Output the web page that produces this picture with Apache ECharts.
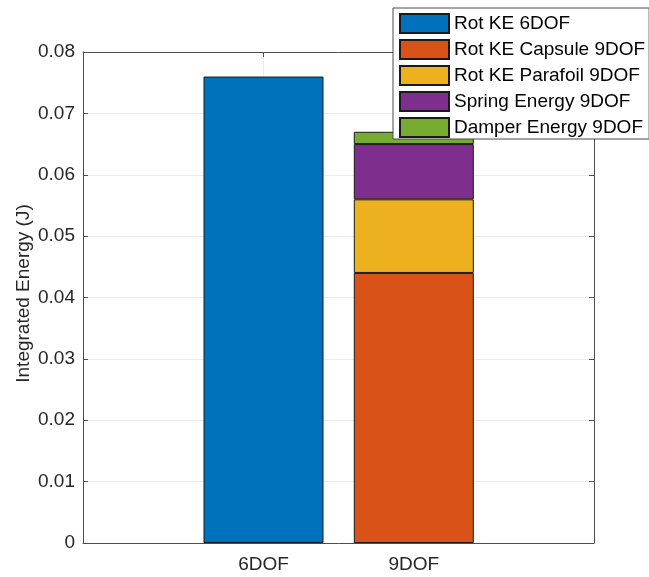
<!DOCTYPE html>
<html>
<head>
<meta charset="utf-8">
<script src="https://cdn.jsdelivr.net/npm/echarts@6/dist/echarts.min.js"></script>
<style>
html,body{margin:0;padding:0;background:#fff;}
#c{width:649px;height:577px;}
</style>
</head>
<body>
<div id="c"></div>
<script>
// Data
var categories = ['6DOF', '9DOF'];
var seriesNames = ['Rot KE 6DOF', 'Rot KE Capsule 9DOF', 'Rot KE Parafoil 9DOF', 'Spring Energy 9DOF', 'Damper Energy 9DOF'];
var rotKE6DOF = [0.076, '-'];
var rotKECapsule9DOF = ['-', 0.044];
var rotKEParafoil9DOF = ['-', 0.012];
var springEnergy9DOF = ['-', 0.009];
var damperEnergy9DOF = ['-', 0.002];
var yTickLabels = ['0', '0.01', '0.02', '0.03', '0.04', '0.05', '0.06', '0.07', '0.08'];
var colors = ['#0072BD', '#D95319', '#EDB120', '#7E2F8E', '#77AC30'];

var allValues = [rotKE6DOF, rotKECapsule9DOF, rotKEParafoil9DOF, springEnergy9DOF, damperEnergy9DOF];
var FONT = 'Liberation Sans';
var TXT = '#262626';
var AX = '#4d4d4d';
var GRIDC = '#ebebeb';

var series = seriesNames.map(function (n, i) {
  return {
    name: n,
    type: 'bar',
    stack: 'total',
    barWidth: 120,
    clip: false,
    xAxisIndex: 2,
    yAxisIndex: 2,
    data: allValues[i],
    itemStyle: { color: colors[i], borderColor: '#1a1a1a', borderWidth: 1 },
    emphasis: { disabled: true },
    z: 3
  };
});

var chart = echarts.init(document.getElementById('c'), null, { renderer: 'canvas' });
chart.setOption({
  animation: false,
  textStyle: { fontFamily: FONT },
  grid: [
    { left: 83, right: 55, top: 52, bottom: 34, containLabel: false },
    { left: 263.5, width: 150.3, top: 52, bottom: 34, containLabel: false }
  ],
  legend: {
    orient: 'vertical',
    left: 393,
    top: 8,
    padding: [5, 4, 1, 6],
    itemWidth: 49,
    itemHeight: 19,
    itemGap: 5,
    backgroundColor: '#fff',
    borderColor: '#4a4a4a',
    borderWidth: 1,
    borderRadius: 0,
    icon: 'rect',
    textStyle: { fontFamily: FONT, fontSize: 19, color: '#000' },
    data: seriesNames,
    z: 10
  },
  xAxis: [{
    type: 'value', gridIndex: 0, min: 0, max: 1, position: 'bottom',
    axisLine: { show: true, onZero: false, lineStyle: { color: AX, width: 1 } },
    axisTick: { show: false }, axisLabel: { show: false }, splitLine: { show: false }
  }, {
    type: 'value', gridIndex: 0, min: 0, max: 1, position: 'top',
    axisLine: { show: true, onZero: false, lineStyle: { color: AX, width: 1 } },
    axisTick: { show: false }, axisLabel: { show: false }, splitLine: { show: false }
  }, {
    type: 'category', gridIndex: 1, data: categories, boundaryGap: false, position: 'bottom',
    axisLine: { show: false },
    axisTick: { show: true, inside: true, length: 5, lineStyle: { color: AX } },
    axisLabel: { show: true, interval: 0, margin: 12, fontFamily: FONT, fontSize: 19, color: TXT },
    splitLine: { show: true, interval: 0, lineStyle: { color: GRIDC, width: 1 } }
  }, {
    type: 'category', gridIndex: 1, data: categories, boundaryGap: false, position: 'top',
    axisLine: { show: false },
    axisTick: { show: true, inside: true, length: 5, lineStyle: { color: AX } },
    axisLabel: { show: false }, splitLine: { show: false }
  }],
  yAxis: [{
    type: 'value', gridIndex: 0, min: 0, max: 0.08, interval: 0.01, position: 'left',
    name: 'Integrated Energy (J)',
    nameLocation: 'middle',
    nameGap: 50,
    nameMoveOverlap: false,
    nameTextStyle: { fontFamily: FONT, fontSize: 19, color: TXT, padding: [0, 0, 0, 8] },
    axisLine: { show: true, onZero: false, lineStyle: { color: AX, width: 1 } },
    axisTick: { show: true, inside: true, length: 5, lineStyle: { color: AX } },
    axisLabel: {
      margin: 8, fontFamily: FONT, fontSize: 19, color: TXT,
      formatter: function (v) { return yTickLabels[Math.round(v * 100)]; }
    },
    splitLine: { show: true, lineStyle: { color: GRIDC, width: 1 } }
  }, {
    type: 'value', gridIndex: 0, min: 0, max: 0.08, interval: 0.01, position: 'right',
    axisLine: { show: true, onZero: false, lineStyle: { color: AX, width: 1 } },
    axisTick: { show: true, inside: true, length: 5, lineStyle: { color: AX } },
    axisLabel: { show: false }, splitLine: { show: false }
  }, {
    type: 'value', gridIndex: 1, min: 0, max: 0.08, interval: 0.01, show: false
  }],
  series: series
});
</script>
</body>
</html>
